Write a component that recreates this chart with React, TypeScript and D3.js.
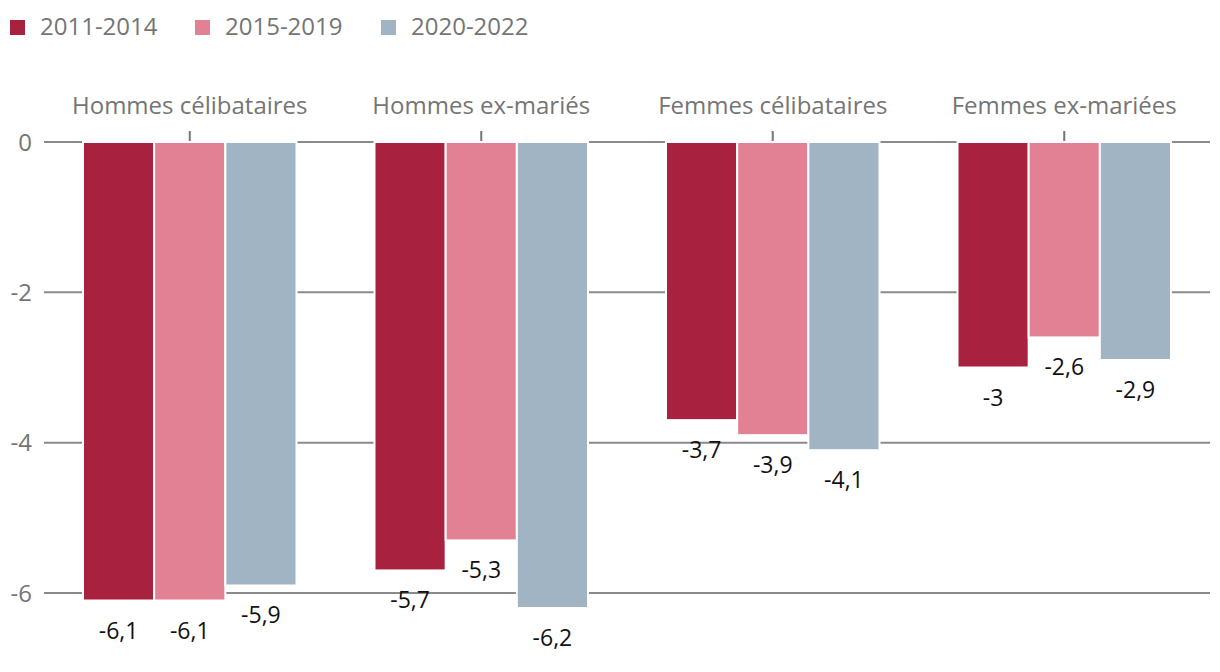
import React from "react";
import * as d3 from "d3";

const categories = ["Hommes célibataires", "Hommes ex-mariés", "Femmes célibataires", "Femmes ex-mariées"];
const seriesNames = ["2011-2014", "2015-2019", "2020-2022"];
const seriesColors = ["#a8213f", "#e28094", "#a0b4c3"];
const values2011_2014 = [-6.1, -5.7, -3.7, -3.0];
const values2015_2019 = [-6.1, -5.3, -3.9, -2.6];
const values2020_2022 = [-5.9, -6.2, -4.1, -2.9];
const yTicks = [0, -2, -4, -6];

const W = 1220;
const H = 672;
const FONT = "'Open Sans', 'Noto Sans', sans-serif";

export default function App() {
  const series = [values2011_2014, values2015_2019, values2020_2022];
  const x = d3.scaleBand<string>().domain(categories).range([44, 1210]).paddingInner(0).paddingOuter(0);
  const inner = d3.scaleBand<number>().domain([0, 1, 2]).range([39, x.bandwidth() - 39]).padding(0);
  const y = d3.scaleLinear().domain([0, -6]).range([142, 593]);
  const fmt = (v: number) => String(v).replace(".", ",");
  const legendX = [10, 195, 381];

  return (
    <div style={{ position: "absolute", left: 0, top: 0 }}>
      <svg width={W} height={H} style={{ display: "block", fontFamily: FONT }}>
        <rect width={W} height={H} fill="#fff" />
        {/* legend */}
        {seriesNames.map((n, i) => {
          const lx = legendX[i];
          return (
            <g key={n}>
              <rect x={lx} y={20} width={15} height={15} fill={seriesColors[i]} />
              <text x={lx + 30} y={35} fontSize={24} fill="#757575">{n}</text>
            </g>
          );
        })}
        {/* gridlines */}
        {yTicks.map((t) => (
          <g key={t}>
            <line x1={44} x2={1210} y1={y(t)} y2={y(t)} stroke="#8a8a8a" strokeWidth={2} />
            <text x={32} y={y(t)} dy="0.36em" textAnchor="end" fontSize={24} fill="#757575">{t}</text>
          </g>
        ))}
        {/* category labels and ticks */}
        {categories.map((c) => {
          const cx = (x(c) as number) + x.bandwidth() / 2;
          return (
            <g key={c}>
              <line x1={cx} x2={cx} y1={131} y2={142} stroke="#757575" strokeWidth={2} />
              <text x={cx} y={114} textAnchor="middle" fontSize={24} fill="#757575">{c}</text>
            </g>
          );
        })}
        {/* bars */}
        {categories.map((c, ci) => (
          <g key={c} transform={`translate(${x(c)},0)`}>
            {series.map((s, si) => {
              const v = s[ci];
              const bx = inner(si) as number;
              const bw = inner.bandwidth();
              return (
                <g key={si}>
                  <rect x={bx} y={y(0)} width={bw} height={y(v) - y(0)} fill={seriesColors[si]} stroke="#fff" strokeWidth={2} />
                  <text x={bx + bw / 2} y={y(v) + 38} textAnchor="middle" fontSize={23} fill="#111">{fmt(v)}</text>
                </g>
              );
            })}
          </g>
        ))}
      </svg>
    </div>
  );
}
